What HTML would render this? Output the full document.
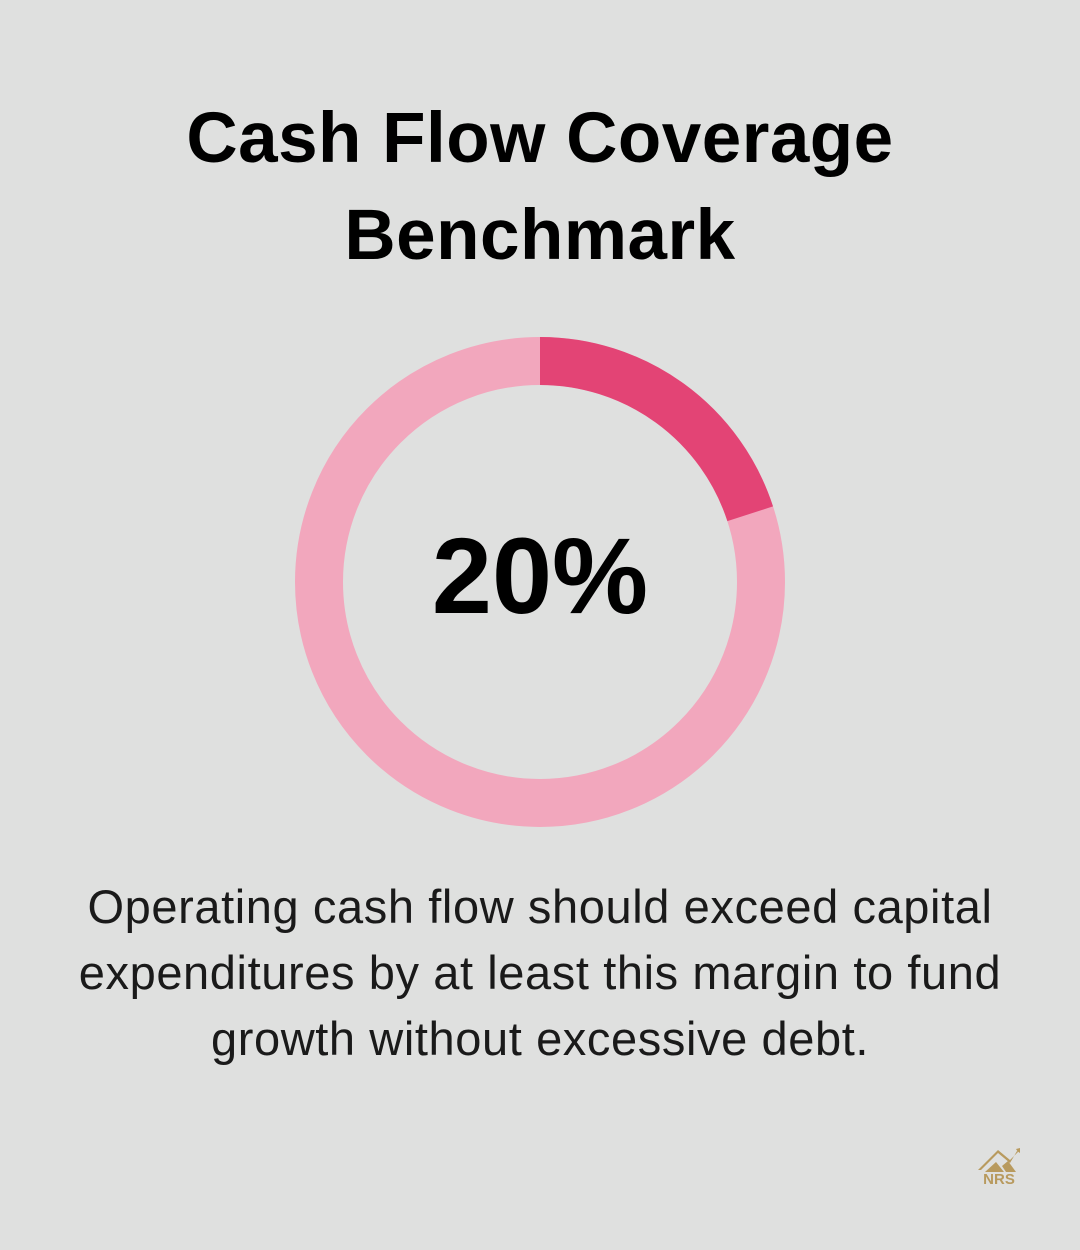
<!DOCTYPE html>
<html><head><style>
body{margin:0;width:1080px;height:1250px;background:#dfe0df;font-family:"Liberation Sans",sans-serif;position:relative;overflow:hidden}
.t{position:absolute;left:0;width:1080px;text-align:center;font-weight:bold;font-size:71px;color:#000;line-height:97px;top:90px;letter-spacing:0.5px}
.d{position:absolute;left:0;width:1080px;text-align:center;font-size:47px;color:#1a1a1a;line-height:66px;top:874px;letter-spacing:0.6px}
</style></head><body>
<div class="t">Cash Flow Coverage<br>Benchmark</div>
<svg width="1080" height="1250" style="position:absolute;left:0;top:0">
<circle cx="540" cy="582" r="221" fill="none" stroke="#f2a7bd" stroke-width="48"/>
<circle cx="540" cy="582" r="221" fill="none" stroke="#e34475" stroke-width="48" stroke-dasharray="277.7 2000" transform="rotate(-90 540 582)"/>
<text x="540" y="613" text-anchor="middle" font-family="Liberation Sans" font-size="108" font-weight="bold">20%</text>
<g fill="#b89a5e">
<polygon points="978,1170 998,1150 1010,1160 1018,1152 1016,1149 1020,1148 1020,1153 1017,1151 1010,1163 998,1153 981,1170"/>
<polygon points="985,1172 996,1162 1004,1172"/>
<polygon points="1002,1166 1008,1161 1016,1172 1006,1172"/>
<text x="999" y="1184" text-anchor="middle" font-size="15" font-weight="bold">NRS</text>
</g>
</svg>
<div class="d">Operating cash flow should exceed capital<br>expenditures by at least this margin to fund<br>growth without excessive debt.</div>
</body></html>
